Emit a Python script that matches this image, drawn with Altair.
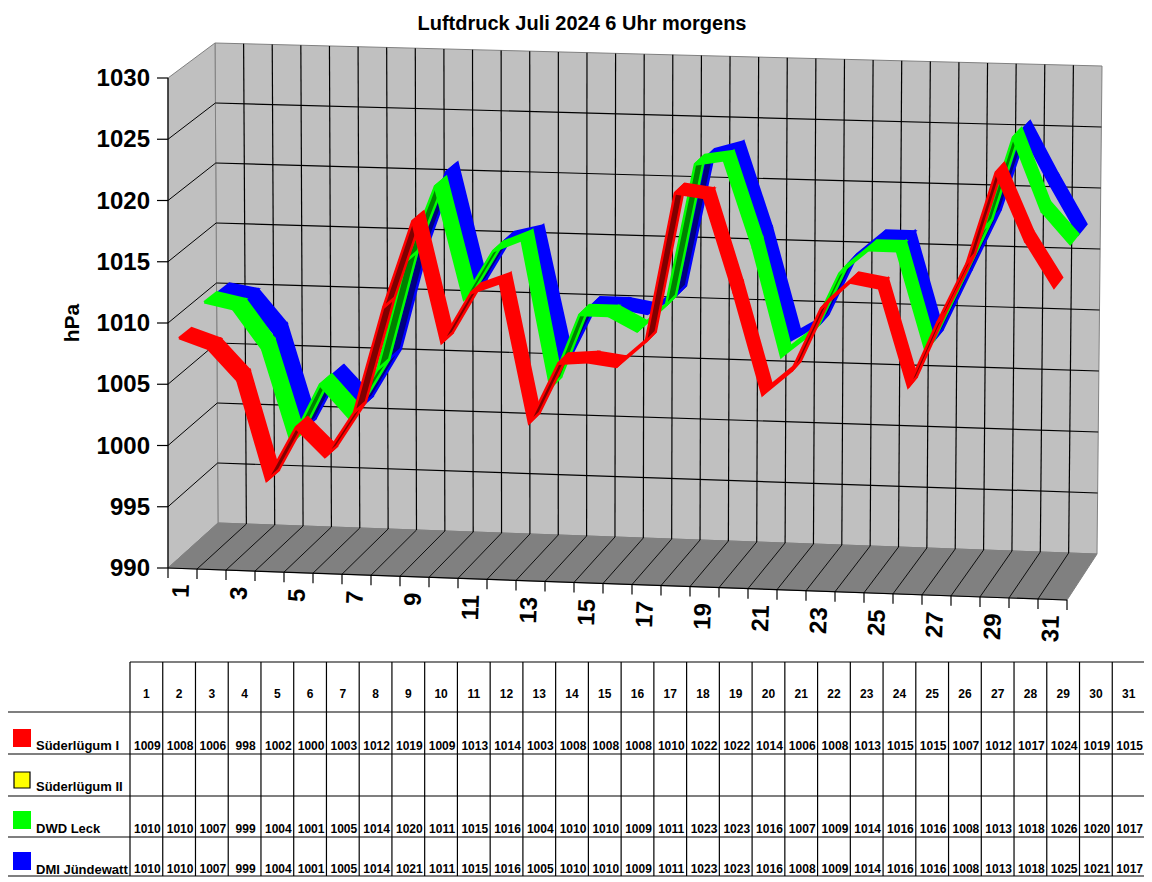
import altair as alt
import pandas as pd

TITLE = "Luftdruck Juli 2024 6 Uhr morgens"
DAYS = list(range(1, 32))
LEVELS = [990, 995, 1000, 1005, 1010, 1015, 1020, 1025, 1030]
SERIES_NAMES = ["Süderlügum I", "Süderlügum II", "DWD Leck", "DMI Jündewatt"]
SERIES_COLORS = ["#ff0000", "#ffff00", "#00ff00", "#0000ff"]
DARK_COLORS = ["#800000", "#808000", "#008000", "#000080"]

T_RED = [1009,1008,1006,998,1002,1000,1003,1012,1019,1009,1013,1014,1003,1008,1008,1008,1010,1022,1022,1014,1006,1008,1013,1015,1015,1007,1012,1017,1024,1019,1015]
T_GREEN = [1010,1010,1007,999,1004,1001,1005,1014,1020,1011,1015,1016,1004,1010,1010,1009,1011,1023,1023,1016,1007,1009,1014,1016,1016,1008,1013,1018,1026,1020,1017]
T_BLUE = [1010,1010,1007,999,1004,1001,1005,1014,1021,1011,1015,1016,1005,1010,1010,1009,1011,1023,1023,1016,1008,1009,1014,1016,1016,1008,1013,1018,1025,1021,1017]

P_RED = [1008.8,1008,1005.5,997.4,1001.8,999.5,1003.2,1011.8,1018.9,1009.1,1013.2,1014.1,1002.8,1007.7,1007.9,1007.6,1009.7,1021.8,1021.5,1014,1005.7,1007.7,1012.8,1015,1014.6,1006.7,1012,1016.8,1024.2,1018.8,1015.1]
P_GREEN = [1010.1,1009.6,1006.4,998.8,1003.6,1001,1005,1014,1020.2,1011,1015,1016,1004,1010,1010,1008.8,1011,1022.6,1023,1016,1007.1,1009,1014,1016,1016,1008,1013,1018,1025.5,1019.6,1017]
P_BLUE = [1010,1009.6,1006.8,999,1003.5,1001,1005,1014,1020.6,1011,1015,1015.6,1005,1009.8,1009.8,1009.4,1011,1022.3,1023,1016,1007.6,1009,1014,1016,1016,1008,1013,1018,1025.3,1021,1017]


def lerp(a, b, t):
    return a + (b - a) * t


def wall(t, v):
    s = (v - 990) / 40
    return (lerp(lerp(218, 1097, t), lerp(215, 1102, t), s),
            lerp(lerp(523, 554, t), lerp(43, 66, t), s))


def left_wall(v, z):
    s = (v - 990) / 40
    return (lerp(168, lerp(218, 215, s), z),
            lerp(lerp(568, 78, s), lerp(523, 43, s), z))


def point(u, v, z):
    s = (v - 990)
    fx = 179 + 875 * u
    fy = lerp(568.5, 599.5, u) - s * lerp(12.25, 12.43, u)
    bx = lerp(231, 1083, u) + lerp(-3, 5, u) * s / 40
    by = lerp(523.5, 553.5, u) - s * lerp(12.0, 12.2, u)
    return lerp(fx, bx, z), lerp(fy, by, z)


X = alt.X("x:Q", scale=alt.Scale(domain=[8, 1144], nice=False, zero=False), axis=None)
Y = alt.Y("y:Q", scale=alt.Scale(domain=[882, 8], nice=False, zero=False), axis=None)


def poly(pts, fill, stroke, width=1.0):
    df = pd.DataFrame({"x": [p[0] for p in pts], "y": [p[1] for p in pts], "k": list(range(len(pts)))})
    return alt.Chart(df).mark_line(fill=fill, stroke=stroke, strokeWidth=width, strokeJoin="miter", strokeMiterLimit=3).encode(X, Y, order="k:Q")


def lines(segs, color, width):
    rows = []
    for i, (a, b) in enumerate(segs):
        rows.append({"x": a[0], "y": a[1], "id": i, "k": 0})
        rows.append({"x": b[0], "y": b[1], "id": i, "k": 1})
    return alt.Chart(pd.DataFrame(rows)).mark_line(stroke=color, strokeWidth=width).encode(X, Y, detail="id:N", order="k:Q")


def texts(rows, size, **kw):
    return alt.Chart(pd.DataFrame(rows)).mark_text(font="Liberation Sans", fontWeight="bold", fontSize=size, color="black", **kw).encode(X, Y, text="t:N")


layers = []
# walls and floor
tl = [wall(0, 990), wall(1, 990), wall(1, 1030), wall(0, 1030), wall(0, 990)]
layers.append(poly(tl, "#c0c0c0", "#808080"))
lw = [left_wall(990, 0), left_wall(990, 1), left_wall(1030, 1), left_wall(1030, 0), left_wall(990, 0)]
layers.append(poly(lw, "#c0c0c0", "#808080"))
front = [(168, 568), (1067, 600)]
fl = [front[0], front[1], wall(1, 990), wall(0, 990), front[0]]
layers.append(poly(fl, "#808080", "#808080"))

# grids
layers.append(lines([(wall(i / 31, 990), wall(i / 31, 1030)) for i in range(1, 31)], "black", 1.2))
layers.append(lines([(wall(0, v), wall(1, v)) for v in LEVELS[1:-1]], "black", 1.2))
layers.append(lines([(left_wall(v, 0), left_wall(v, 1)) for v in LEVELS[1:-1]], "black", 1.0))
layers.append(lines([((lerp(168, 1067, i / 31), lerp(568, 600, i / 31)), wall(i / 31, 990)) for i in range(1, 31)], "black", 0.9))
# axis lines and ticks
layers.append(lines([(left_wall(990, 0), left_wall(1030, 0)), (front[0], front[1])], "black", 1.2))
layers.append(lines([((157, left_wall(v, 0)[1]), left_wall(v, 0)) for v in LEVELS], "black", 1.2))
ticks = [(lerp(168, 1067, i / 31), lerp(568, 600, i / 31)) for i in range(32)]
layers.append(lines([(p, (p[0], p[1] + 10)) for p in ticks], "black", 1.2))

# ribbons, back to front
for vals, idx, z0 in [(P_BLUE, 3, 0.75), (P_GREEN, 2, 0.5), (P_RED, 0, 0.0)]:
    for i in range(30):
        u0, u1 = i / 30, (i + 1) / 30
        a = point(u0, vals[i], z0)
        b = point(u1, vals[i + 1], z0)
        c = point(u1, vals[i + 1], z0 + 0.25)
        d = point(u0, vals[i], z0 + 0.25)
        cross = (b[0] - a[0]) * (d[1] - a[1]) - (b[1] - a[1]) * (d[0] - a[0])
        fill = SERIES_COLORS[idx] if cross < 0 else DARK_COLORS[idx]
        layers.append(poly([a, b, c, d, a], fill, SERIES_COLORS[idx], 2.5))

# axis text
layers.append(texts([{"x": 150, "y": left_wall(v, 0)[1] + 1, "t": str(v)} for v in LEVELS], 24, align="right", baseline="middle"))
xl = [{"x": lerp(168, 1067, (d - 0.5) / 31) - 0.5, "y": lerp(568, 600, (d - 0.5) / 31) + 16, "t": str(d)} for d in DAYS[::2]]
layers.append(texts(xl, 24, align="right", baseline="middle", angle=272))
layers.append(texts([{"x": 73, "y": 323, "t": "hPa"}], 21, align="center", baseline="middle", angle=270))
layers.append(texts([{"x": 582, "y": 24, "t": TITLE}], 20, align="center", baseline="middle"))

# table
TX0, TX1 = 130, 1145
cw = (TX1 - TX0) / 31
ROWY = [712, 754, 796, 837, 876]
segs = [((TX0, 662), (TX1, 662)), ((7, 712), (TX1, 712))]
segs += [((7, y), (TX1, y)) for y in ROWY[1:]]
segs += [((7, 712), (7, 876)), ((TX1, 662), (TX1, 712))]
segs += [((TX0 + i * cw, 662), (TX0 + i * cw, 876)) for i in range(31)]
layers.append(lines(segs, "black", 1.2))
layers.append(texts([{"x": TX0 + (d - 0.5) * cw, "y": 694, "t": str(d)} for d in DAYS], 12, align="center", baseline="middle"))
rows = []
for vals, base in [(T_RED, 750), (T_GREEN, 833), (T_BLUE, 873)]:
    rows += [{"x": TX0 + (i + 0.5) * cw + 1, "y": base, "t": str(v)} for i, v in enumerate(vals)]
layers.append(texts(rows, 12, align="center", baseline="alphabetic"))
layers.append(texts([{"x": 36, "y": y, "t": n} for n, y in zip(SERIES_NAMES, [750, 791, 833, 874])], 13, align="left", baseline="alphabetic"))
sw = pd.DataFrame({"x": [13, 13, 13], "x2": [31, 31, 31], "y": [729, 811, 852], "y2": [747, 829, 870], "c": [SERIES_COLORS[0], SERIES_COLORS[2], SERIES_COLORS[3]]})
layers.append(alt.Chart(sw).mark_rect().encode(X, alt.X2("x2:Q"), Y, alt.Y2("y2:Q"), fill=alt.Fill("c:N", scale=None)))
sy = pd.DataFrame({"x": [14], "x2": [30], "y": [772], "y2": [788]})
layers.append(alt.Chart(sy).mark_rect(fill=SERIES_COLORS[1], stroke="black", strokeWidth=1.2).encode(X, alt.X2("x2:Q"), Y, alt.Y2("y2:Q")))

chart = alt.layer(*layers).properties(width=1136, height=874, padding=0, autosize="none", background="white").configure_view(stroke=None)
chart.save("out.html", embed_options={"renderer": "svg", "actions": False})
